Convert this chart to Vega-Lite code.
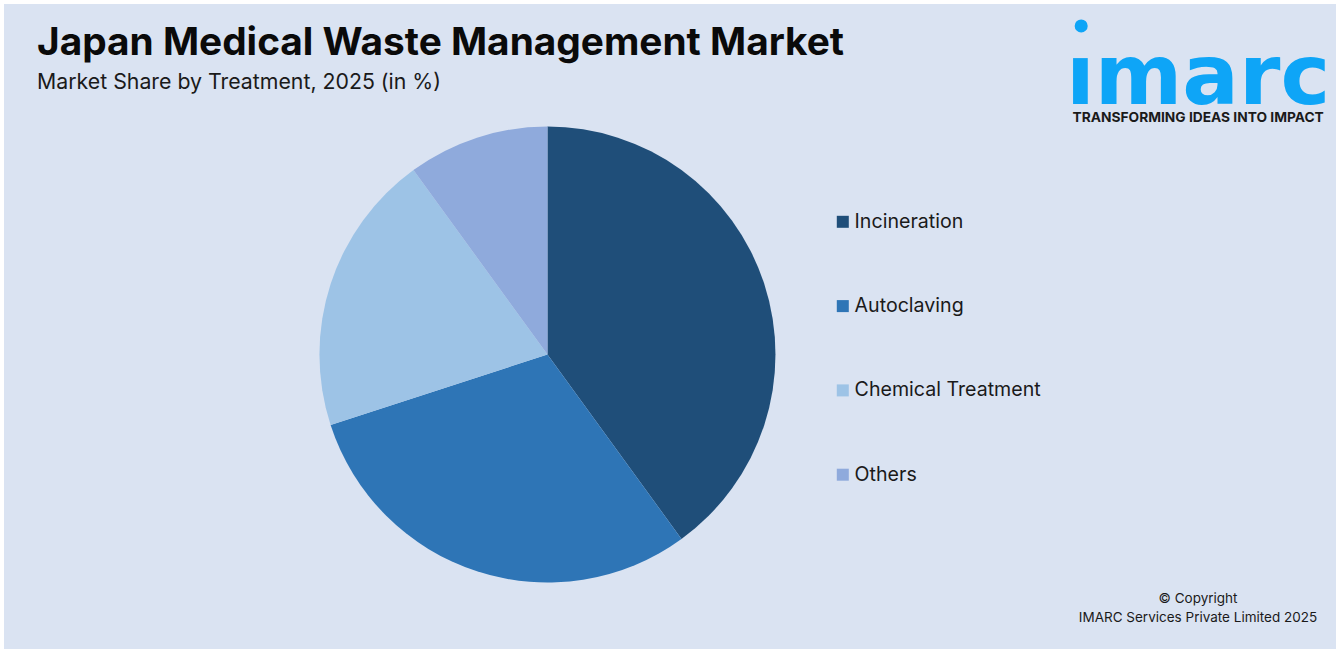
{
  "$schema": "https://vega.github.io/schema/vega-lite/v6.json",
  "width": 1332,
  "height": 645,
  "padding": 4,
  "autosize": "none",
  "background": "#ffffff",
  "view": {"fill": "#dae3f2", "stroke": null},
  "title": {
    "text": "Japan Medical Waste Management Market",
    "subtitle": "Market Share by Treatment, 2025 (in %)",
    "anchor": "start",
    "frame": "group",
    "dx": 33,
    "dy": 93,
    "font": "Inter",
    "fontSize": 38.8,
    "fontWeight": 700,
    "color": "#0a0a0a",
    "subtitleFont": "Inter",
    "subtitleFontSize": 21.3,
    "subtitleColor": "#1a1a1a",
    "subtitlePadding": 9
  },
  "layer": [
    {
      "data": {
        "values": [
          {"treatment": "Incineration", "share": 40, "rank": 1},
          {"treatment": "Autoclaving", "share": 30, "rank": 2},
          {"treatment": "Chemical Treatment", "share": 20, "rank": 3},
          {"treatment": "Others", "share": 10, "rank": 4}
        ]
      },
      "mark": {
        "type": "arc",
        "x": {"expr": "width * 0.408"},
        "y": {"expr": "height * 0.5434"},
        "outerRadius": {"expr": "height * 0.3535"}
      },
      "encoding": {
        "theta": {"field": "share", "type": "quantitative", "stack": true},
        "order": {"field": "rank"},
        "color": {
          "field": "treatment",
          "type": "nominal",
          "scale": {
            "domain": ["Incineration", "Autoclaving", "Chemical Treatment", "Others"],
            "range": ["#1f4e79", "#2e75b6", "#9dc3e6", "#8faadc"]
          },
          "legend": {
            "title": null,
            "orient": "none",
            "legendX": 829,
            "legendY": 208,
            "symbolType": "square",
            "symbolSize": 144,
            "symbolStrokeWidth": 0,
            "labelFont": "Inter",
            "labelFontSize": 19.6,
            "labelColor": "#1a1a1a",
            "labelOffset": 2,
            "rowPadding": 63.3,
            "labelLimit": 300
          }
        }
      }
    },
    {
      "data": {"values": [{"logo": "ımarc"}]},
      "mark": {
        "type": "text",
        "x": {"expr": "width * 0.8965"},
        "y": {"expr": "height * 0.155"},
        "font": "DejaVu Sans",
        "fontSize": 84,
        "fontWeight": 700,
        "color": "#0ea5f7",
        "align": "center",
        "baseline": "alphabetic"
      },
      "encoding": {"text": {"field": "logo"}}
    },
    {
      "data": {"values": [{"dot": "i"}]},
      "mark": {
        "type": "point",
        "shape": "circle",
        "filled": true,
        "opacity": 1,
        "size": 170,
        "color": "#0ea5f7",
        "x": {"expr": "width * 0.8087"},
        "y": {"expr": "height * 0.034"}
      },
      "encoding": {"detail": {"field": "dot"}}
    },
    {
      "data": {"values": [{"tagline": "TRANSFORMING IDEAS INTO IMPACT"}]},
      "mark": {
        "type": "text",
        "x": {"expr": "width * 0.8965"},
        "y": {"expr": "height * 0.1765"},
        "font": "Inter",
        "fontSize": 13.75,
        "fontWeight": 700,
        "color": "#1a1a1a",
        "align": "center"
      },
      "encoding": {"text": {"field": "tagline"}}
    },
    {
      "data": {"values": [{"note": "© Copyright"}]},
      "mark": {
        "type": "text",
        "x": {"expr": "width * 0.8964"},
        "y": {"expr": "height * 0.9225"},
        "font": "Inter",
        "fontSize": 13.5,
        "color": "#1a1a1a",
        "align": "center"
      },
      "encoding": {"text": {"field": "note"}}
    },
    {
      "data": {"values": [{"note": "IMARC Services Private Limited 2025"}]},
      "mark": {
        "type": "text",
        "x": {"expr": "width * 0.8964"},
        "y": {"expr": "height * 0.9525"},
        "font": "Inter",
        "fontSize": 13.5,
        "color": "#1a1a1a",
        "align": "center"
      },
      "encoding": {"text": {"field": "note"}}
    }
  ]
}
